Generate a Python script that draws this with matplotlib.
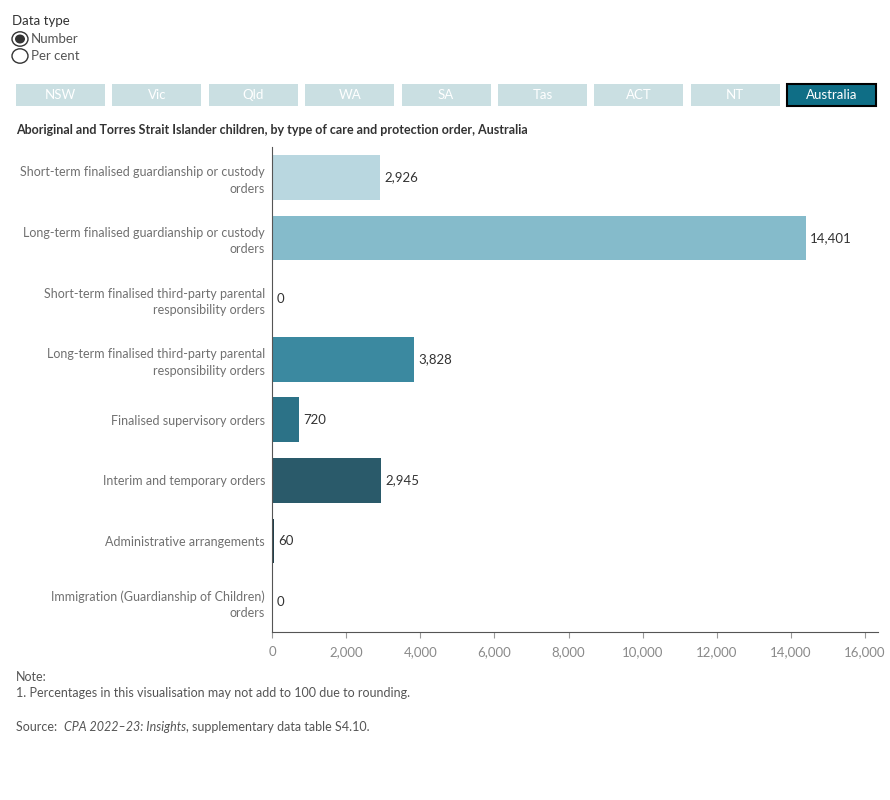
import matplotlib.pyplot as plt
from matplotlib.patches import Rectangle, Circle
from matplotlib.ticker import FuncFormatter

plt.rcParams['font.family'] = ['Lato', 'DejaVu Sans']

categories = [
    'Short-term finalised guardianship or custody\norders',
    'Long-term finalised guardianship or custody\norders',
    'Short-term finalised third-party parental\nresponsibility orders',
    'Long-term finalised third-party parental\nresponsibility orders',
    'Finalised supervisory orders',
    'Interim and temporary orders',
    'Administrative arrangements',
    'Immigration (Guardianship of Children)\norders',
]
values = [2926, 14401, 0, 3828, 720, 2945, 60, 0]
bar_colors = ['#b9d7e0', '#85bbcb', '#5fa3b5', '#3b89a0', '#2c7287',
              '#2a5a6a', '#1f3f4b', '#1a2f38']
states = ['NSW', 'Vic', 'Qld', 'WA', 'SA', 'Tas', 'ACT', 'NT', 'Australia']
xticks = [0, 2000, 4000, 6000, 8000, 10000, 12000, 14000, 16000]

W, H = 890, 800
fig = plt.figure(figsize=(W / 100, H / 100), dpi=100)

# --- bar chart ---
ax = fig.add_axes([272 / W, 1 - 632 / H, (878 - 272) / W, (632 - 147) / H])
ypos = list(range(len(categories)))
ax.barh(ypos, values, height=0.74, color=bar_colors)
for y, v in zip(ypos, values):
    ax.annotate(f'{v:,}', (v, y), xytext=(3, 0), textcoords='offset points',
                va='center', ha='left', fontsize=9.5, color='#333333')

ax.set_ylim(len(categories) - 0.5, -0.5)
ax.set_xlim(0, 16350)
ax.set_yticks(ypos)
ax.set_yticklabels(categories, fontsize=9, color='#707070', ha='right',
                   linespacing=1.45)
ax.tick_params(axis='y', length=0, pad=5)
ax.set_xticks(xticks)
ax.xaxis.set_major_formatter(FuncFormatter(lambda v, p: f'{int(v):,}'))
ax.tick_params(axis='x', length=4, color='#999999', labelcolor='#8a8a8a',
               labelsize=9.5, pad=6)
for s in ['top', 'right']:
    ax.spines[s].set_visible(False)
ax.spines['left'].set_color('#555555')
ax.spines['bottom'].set_color('#555555')

# --- header controls ---
fig.text(12 / W, 1 - 21 / H, 'Data type', fontsize=9.5, color='#333333', va='center')
for i, lab in enumerate(['Number', 'Per cent']):
    cy = 1 - (39 + i * 17) / H
    fig.patches.append(Circle((20 / W, cy), 8 / W, transform=fig.transFigure,
                              facecolor='white', edgecolor='#333333', lw=1))
    if i == 0:
        fig.patches.append(Circle((20 / W, cy), 5 / W, transform=fig.transFigure,
                                  facecolor='#333333', edgecolor='none'))
    fig.text(31 / W, cy, lab, fontsize=9.5, color='#555555', va='center')

bw, gap, x0 = 89, 7.4, 16
for i, st in enumerate(states):
    bx = x0 + i * (bw + gap)
    active = st == 'Australia'
    fig.patches.append(Rectangle((bx / W, 1 - 106 / H), bw / W, 22 / H,
                                 transform=fig.transFigure,
                                 facecolor='#0f6e86' if active else '#cadfe2',
                                 edgecolor='black' if active else 'none',
                                 lw=1.5 if active else 0))
    fig.text((bx + bw / 2) / W, 1 - 95 / H, st, fontsize=9.5, color='white',
             ha='center', va='center')

fig.text(16 / W, 1 - 130 / H,
         'Aboriginal and Torres Strait Islander children, by type of care and protection order, Australia',
         fontsize=9, fontweight='bold', color='#333333', va='center')

# --- notes ---
fig.text(16 / W, 1 - 677 / H, 'Note:', fontsize=9, color='#555555', va='center')
fig.text(16 / W, 1 - 693 / H,
         '1. Percentages in this visualisation may not add to 100 due to rounding.',
         fontsize=9, color='#555555', va='center')
t1 = fig.text(16 / W, 1 - 727 / H, 'Source:  ', fontsize=9, color='#555555', va='center')
t2 = fig.text(0, 0, 'CPA 2022\u201323: Insights', fontsize=9, color='#555555',
              style='italic', va='bottom', ha='left')
t3 = fig.text(0, 0, ', supplementary data table S4.10.', fontsize=9,
              color='#555555', va='bottom', ha='left')
fig.canvas.draw()
r = fig.canvas.get_renderer()
bb1 = t1.get_window_extent(r)
t2.set_position((bb1.x1 / W, bb1.y0 / H))
fig.canvas.draw()
bb2 = t2.get_window_extent(r)
t3.set_position((bb2.x1 / W, bb1.y0 / H))

fig.savefig('out.png', dpi=100)
